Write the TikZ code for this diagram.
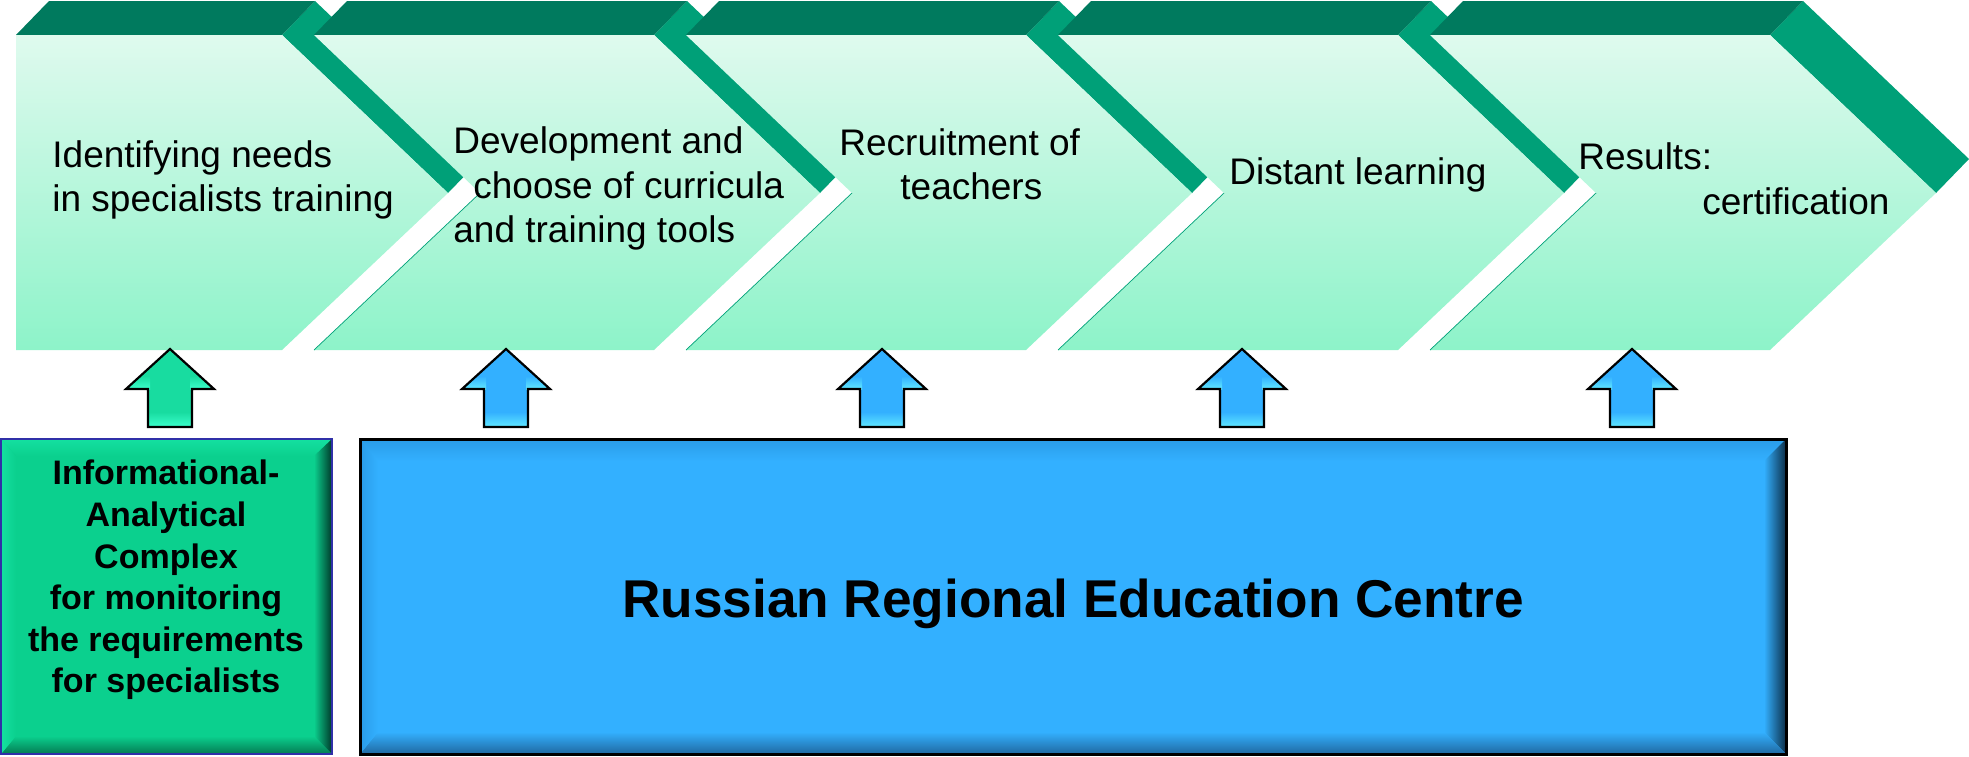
\documentclass[tikz,border=0pt]{standalone}
\usepackage{fontspec}
\setmainfont{Liberation Sans}
\definecolor{bandc}{HTML}{007A5E}
\definecolor{sidec}{HTML}{00A078}
\definecolor{facetop}{HTML}{DFFAEE}
\definecolor{facebot}{HTML}{8DF3C9}
\definecolor{bluemain}{HTML}{33B0FF}
\definecolor{bluelight}{HTML}{60E8FF}
\definecolor{blueedge}{HTML}{2A9CE8}
\definecolor{bluedark}{HTML}{0C2E48}
\definecolor{bluebot}{HTML}{2068A0}
\definecolor{greenmain}{HTML}{0BD08E}
\definecolor{greenarrow}{HTML}{18DCA0}
\definecolor{greenlight}{HTML}{3CFFCC}
\definecolor{greenedge}{HTML}{14E0A0}
\definecolor{greendark}{HTML}{00382A}
\definecolor{greenbot}{HTML}{047A52}
\definecolor{greenborder}{HTML}{3030A8}
\begin{document}
\begin{tikzpicture}[x=0.5pt,y=-0.5pt,
  ctext/.style={inner sep=0pt,font=\fontsize{18.5}{22}\selectfont,anchor=base west},
  arrowline/.style={draw=black,line width=1.1pt,line join=miter}]
\useasboundingbox (0,0) rectangle (1969,756);

% ---------- chevrons ----------
\foreach \k in {0,...,4}{
  \pgfmathsetmacro\R{282+372*\k}
  \pgfmathsetmacro\L{\R-340}
  \fill[sidec] (\R,35) -- (\R+33,1) -- (\R+199,159) -- (\R+166,193) -- cycle;
  \ifnum\k=0
    \fill[bandc] (16,35) -- (49,1) -- (\R+33,1) -- (\R,35) -- cycle;
    \shade[top color=facetop,bottom color=facebot]
      (16,35) -- (\R,35) -- (\R+166,193) -- (\R,350) -- (16,350) -- cycle;
  \else
    \fill[bandc] (\L,35) -- (\L+33,1) -- (\R+33,1) -- (\R,35) -- cycle;
    \shade[top color=facetop,bottom color=facebot]
      (\L,35) -- (\R,35) -- (\R+166,193) -- (\R,350) -- (\L,350) -- (\L+166,193) -- cycle;
    \draw[sidec,line width=0.35pt] (\L+166,193) -- (\L,350);
  \fi
}

% ---------- chevron texts ----------
\node[ctext] (t1a) at (52,167) {Identifying needs};
\node[ctext] (t1b) at (52,211) {in specialists training};
\node[ctext] (t2a) at (453,153) {Development and};
\node[ctext] (t2b) at (473,198) {choose of curricula};
\node[ctext] (t2c) at (453,242) {and training tools};
\node[ctext] (t3a) at (839,155) {Recruitment of};
\node[ctext] (t3b) at (900,199) {teachers};
\node[ctext] (t4a) at (1229,184) {Distant learning};
\node[ctext] (t5a) at (1578,169) {Results:};
\node[ctext] (t5b) at (1702,214) {certification};

% ---------- arrows ----------
\foreach \c/\main/\light in {170/greenarrow/greenlight,506/bluemain/bluelight,882/bluemain/bluelight,1242/bluemain/bluelight,1632/bluemain/bluelight}{
  \begin{scope}
    \clip (\c,349) -- (\c+44,389) -- (\c+22,389) -- (\c+22,427) -- (\c-22,427) -- (\c-22,389) -- (\c-44,389) -- cycle;
    \fill[\main] (\c-44,349) rectangle (\c+44,427);
    \shade[top color=\main,bottom color=\light] (\c-44,376) rectangle (\c-20,389);
    \shade[top color=\main,bottom color=\light] (\c+20,376) rectangle (\c+44,389);
    \shade[top color=\main,bottom color=\light] (\c-22,412) rectangle (\c+22,427);
  \end{scope}
  \draw[arrowline] (\c,349) -- (\c+44,389) -- (\c+22,389) -- (\c+22,427) -- (\c-22,427) -- (\c-22,389) -- (\c-44,389) -- cycle;
}

% ---------- green box ----------
\fill[greenmain] (1,439) rectangle (332,754);
\shade[top color=greenedge,middle color=greenlight,bottom color=greenmain]
  (1,439) -- (332,439) -- (314,456) -- (16,456) -- cycle;
\shade[left color=greenmain,right color=greendark]
  (332,439) -- (332,754) -- (314,736) -- (314,456) -- cycle;
\shade[top color=greenmain,bottom color=greenbot]
  (1,754) -- (332,754) -- (314,736) -- (16,736) -- cycle;
\shade[left color=greenedge,right color=greenmain]
  (1,439) -- (16,456) -- (16,736) -- (1,754) -- cycle;
\draw[greenborder,line width=1pt] (1,439) rectangle (332,754);
\node[inner sep=0pt,align=center,font=\bfseries\fontsize{17}{20.8}\selectfont] (iac) at (166,580)
  {Informational-\\Analytical\\Complex\\for monitoring\\the requirements\\for specialists};

% ---------- blue box ----------
\fill[bluemain] (360,439) rectangle (1786,754);
\shade[top color=blueedge,middle color=bluelight,bottom color=bluemain]
  (360,439) -- (1786,439) -- (1764,461) -- (378,461) -- cycle;
\shade[left color=bluemain,right color=bluedark]
  (1786,439) -- (1786,754) -- (1764,732) -- (1764,461) -- cycle;
\shade[top color=bluemain,bottom color=bluebot]
  (360,754) -- (1786,754) -- (1764,732) -- (378,732) -- cycle;
\shade[left color=blueedge,right color=bluemain]
  (360,439) -- (378,461) -- (378,732) -- (360,754) -- cycle;
\draw[black,line width=1.5pt] (360,439) rectangle (1786,754);
\node[inner sep=0pt,anchor=base,font=\bfseries\fontsize{26.6}{32}\selectfont] (rrec) at (1073,617)
  {Russian Regional Education Centre};
\end{tikzpicture}
\end{document}
